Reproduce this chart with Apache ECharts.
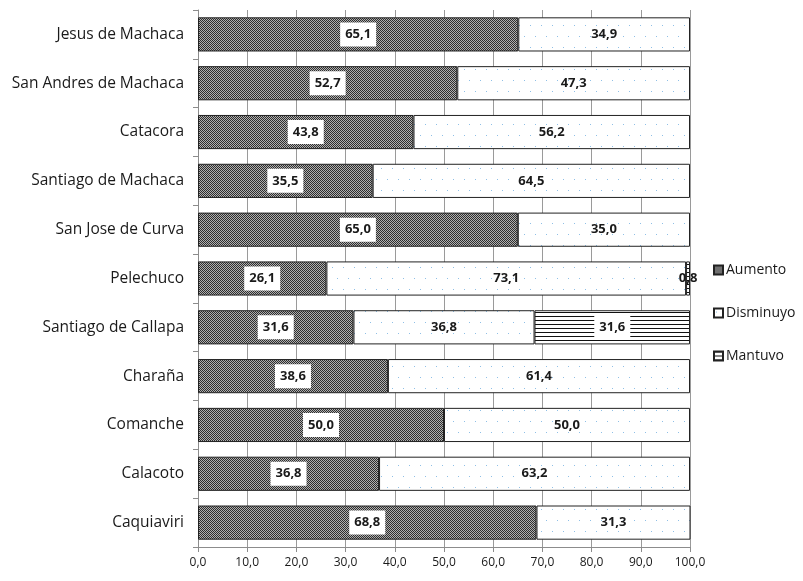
<!DOCTYPE html>
<html>
<head>
<meta charset="utf-8">
<script src="https://cdn.jsdelivr.net/npm/echarts@6/dist/echarts.min.js"></script>
<style>
  html, body { margin: 0; padding: 0; background: #fff; }
  #chart { width: 803px; height: 581px; }
</style>
</head>
<body>
<div id="chart"></div>
<script>
// Municipios (top to bottom)
const categories = [
  'Jesus de Machaca', 'San Andres de Machaca', 'Catacora', 'Santiago de Machaca',
  'San Jose de Curva', 'Pelechuco', 'Santiago de Callapa', 'Charaña',
  'Comanche', 'Calacoto', 'Caquiaviri'
];
// Percent of households per answer
const aumento    = [65.1, 52.7, 43.8, 35.5, 65.0, 26.1, 31.6, 38.6, 50.0, 36.8, 68.8];
const disminuyo  = [34.9, 47.3, 56.2, 64.5, 35.0, 73.1, 36.8, 61.4, 50.0, 63.2, 31.3];
const mantuvo    = [0, 0, 0, 0, 0, 0.8, 31.6, 0, 0, 0, 0];
const xTicks = [0, 10, 20, 30, 40, 50, 60, 70, 80, 90, 100];

function tile(w, h, draw) {
  const c = document.createElement('canvas');
  c.width = w; c.height = h;
  const ctx = c.getContext('2d');
  ctx.fillStyle = '#ffffff';
  ctx.fillRect(0, 0, w, h);
  draw(ctx);
  return { image: c, repeat: 'repeat' };
}
// dark dithered fill
const fillAumento = tile(2, 2, ctx => {
  ctx.fillStyle = '#b0b0b0'; ctx.fillRect(0, 0, 2, 2);
  ctx.fillStyle = '#2e2e2e'; ctx.fillRect(0, 0, 1, 1); ctx.fillRect(1, 1, 1, 1);
});
// sparse light-blue dots
const fillDisminuyo = tile(11, 22, ctx => {
  ctx.fillStyle = '#8fbfe6';
  ctx.fillRect(2, 3, 1, 1);
  ctx.fillRect(7, 14, 1, 1);
});
// horizontal hatch
const fillMantuvo = tile(4, 4, ctx => {
  ctx.fillStyle = '#111111';
  ctx.fillRect(0, 0, 4, 1);
});

const fmt = v => v.toFixed(1).replace('.', ',');
const font = '"Open Sans", "Noto Sans", sans-serif';
const noZero = arr => arr.map(v => (v > 0 ? v : '-'));

const boxLabel = {
  show: true,
  position: 'inside',
  color: '#1a1a1a',
  fontWeight: 'bold',
  fontSize: 13,
  fontFamily: font,
  backgroundColor: '#ffffff',
  padding: [6, 5, 5, 5],
  formatter: p => fmt(p.value)
};

const chart = echarts.init(document.getElementById('chart'), null, { renderer: 'canvas' });
chart.setOption({
  animation: false,
  grid: { left: 198, right: 113, top: 10, bottom: 34 },
  legend: {
    orient: 'vertical',
    left: 708,
    top: 258,
    itemGap: 29,
    itemWidth: 9,
    itemHeight: 9,
    icon: 'rect',
    textStyle: { fontSize: 14, color: '#1a1a1a', fontFamily: font, padding: [0, 0, 0, -2] },
    data: ['Aumento', 'Disminuyo', 'Mantuvo']
  },
  xAxis: {
    type: 'value',
    min: 0, max: 100, interval: 10,
    axisLine: { show: true, lineStyle: { color: '#8c8c8c' } },
    axisTick: { show: true, length: 5, lineStyle: { color: '#8c8c8c' } },
    axisLabel: {
      fontSize: 12, color: '#1a1a1a', fontFamily: font, margin: 10,
      formatter: v => xTicks.includes(v) ? fmt(v) : ''
    },
    splitLine: { show: true, lineStyle: { color: '#9a9a9a', width: 1 } }
  },
  yAxis: {
    type: 'category',
    inverse: true,
    data: categories,
    axisLine: { show: true, lineStyle: { color: '#8c8c8c' } },
    axisTick: { show: true, length: 5, lineStyle: { color: '#8c8c8c' } },
    axisLabel: { fontSize: 15.5, color: '#1a1a1a', fontFamily: font, margin: 14 }
  },
  series: [
    {
      name: 'Aumento', type: 'bar', stack: 'total', barWidth: '70%',
      data: noZero(aumento),
      itemStyle: { color: fillAumento, borderColor: '#222', borderWidth: 1 },
      label: boxLabel
    },
    {
      name: 'Disminuyo', type: 'bar', stack: 'total',
      data: noZero(disminuyo),
      itemStyle: { color: fillDisminuyo, borderColor: '#222', borderWidth: 1 },
      label: Object.assign({}, boxLabel, { backgroundColor: 'transparent' })
    },
    {
      name: 'Mantuvo', type: 'bar', stack: 'total',
      data: mantuvo.map(v => v > 0 && v < 5
        ? { value: v, label: { backgroundColor: 'transparent', padding: 0 } }
        : (v > 0 ? v : '-')),
      itemStyle: { color: fillMantuvo, borderColor: '#222', borderWidth: 1 },
      label: boxLabel
    }
  ]
});
</script>
</body>
</html>
